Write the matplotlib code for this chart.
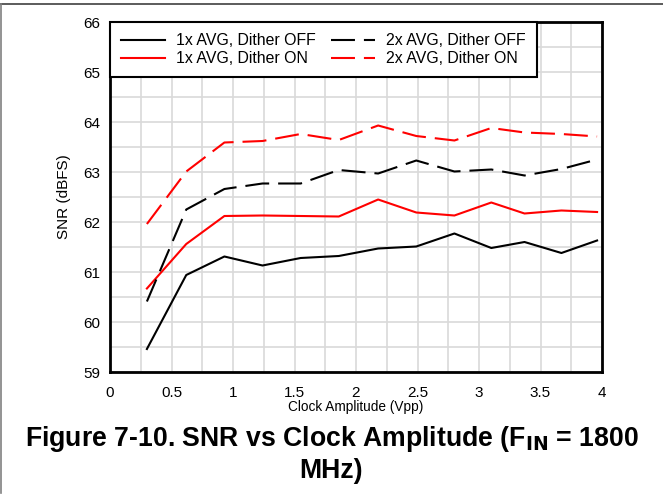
import matplotlib
matplotlib.use("Agg")
import matplotlib.pyplot as plt
from matplotlib.lines import Line2D

plt.rcParams['font.family'] = ['Liberation Sans', 'DejaVu Sans']

clock_vpp = [0.30, 0.62, 0.93, 1.24, 1.55, 1.86, 2.18, 2.49, 2.80, 3.10, 3.37, 3.67, 3.96]
snr_1x_off = [59.46, 60.94, 61.31, 61.13, 61.28, 61.32, 61.47, 61.51, 61.77, 61.48, 61.60, 61.38, 61.63]
snr_1x_on = [60.67, 61.56, 62.12, 62.13, 62.12, 62.11, 62.45, 62.19, 62.13, 62.39, 62.17, 62.23, 62.20]
snr_2x_off = [60.41, 62.25, 62.66, 62.77, 62.77, 63.04, 62.97, 63.23, 63.01, 63.05, 62.93, 63.06, 63.25]
snr_2x_on = [61.96, 63.01, 63.59, 63.62, 63.76, 63.64, 63.93, 63.72, 63.63, 63.88, 63.79, 63.76, 63.71]

labels = ["1x AVG, Dither OFF", "1x AVG, Dither ON", "2x AVG, Dither OFF", "2x AVG, Dither ON"]
xticks = [0, 0.5, 1, 1.5, 2, 2.5, 3, 3.5, 4]
xticklabels = ["0", "0.5", "1", "1.5", "2", "2.5", "3", "3.5", "4"]
yticks = [59, 60, 61, 62, 63, 64, 65, 66]

fig = plt.figure(figsize=(6.63, 4.95), dpi=100)
ax = fig.add_axes([110/663, 1-372/495, 492/663, 350/495])

lw = 1.5
dash = (11.5, 4.3)
ax.plot(clock_vpp, snr_1x_off, color='black', lw=lw, label=labels[0])
ax.plot(clock_vpp, snr_1x_on, color='#ff0000', lw=lw, label=labels[1])
ax.plot(clock_vpp, snr_2x_off, color='black', lw=lw, dashes=dash, label=labels[2])
ax.plot(clock_vpp, snr_2x_on, color='#ff0000', lw=lw, dashes=dash, label=labels[3])

ax.set_xlim(0, 4)
ax.set_ylim(59, 66)
ax.set_xticks(xticks)
ax.set_xticklabels(xticklabels)
ax.set_yticks(yticks)
ax.set_xticks([i*0.25 for i in range(17)], minor=True)
ax.set_yticks([59 + i*0.5 for i in range(15)], minor=True)
ax.grid(which='both', color='#d9d9d9', lw=1.2)
ax.set_axisbelow(True)
ax.tick_params(which='both', length=0, labelsize=11)
ax.tick_params(axis='x', pad=10)
ax.tick_params(axis='y', pad=7)
for s in ax.spines.values():
    s.set_linewidth(2)
    s.set_color('black')

ax.set_xlabel("Clock Amplitude (Vpp)", fontsize=9.8, labelpad=0)
ax.set_ylabel("SNR (dBFS)", fontsize=11, labelpad=9)

leg = ax.legend(ncol=2, loc='upper left', fontsize=11.4, frameon=True, fancybox=False,
                edgecolor='black', framealpha=1, borderaxespad=0, handlelength=2.8,
                columnspacing=0.9, handletextpad=0.7, labelspacing=0.2,
                borderpad=0.7)
leg.get_frame().set_linewidth(1.5)

fig.text(0.5, 1-439/495, "Figure 7-10. SNR vs Clock Amplitude (F$_{\\mathbf{IN}}$ = 1800",
         ha='center', va='center', fontsize=19.2, fontweight='bold')
fig.text(0.5, 1-471/495, "MHz)",
         ha='center', va='center', fontsize=19.2, fontweight='bold')

fig.add_artist(Line2D([0, 1], [1-4/495, 1-4/495], transform=fig.transFigure, color='#404040', lw=1.2))
fig.add_artist(Line2D([1/663, 1/663], [1-4/495, 0.005], transform=fig.transFigure, color='#808080', lw=1.2))

fig.savefig("out.png", dpi=100)
